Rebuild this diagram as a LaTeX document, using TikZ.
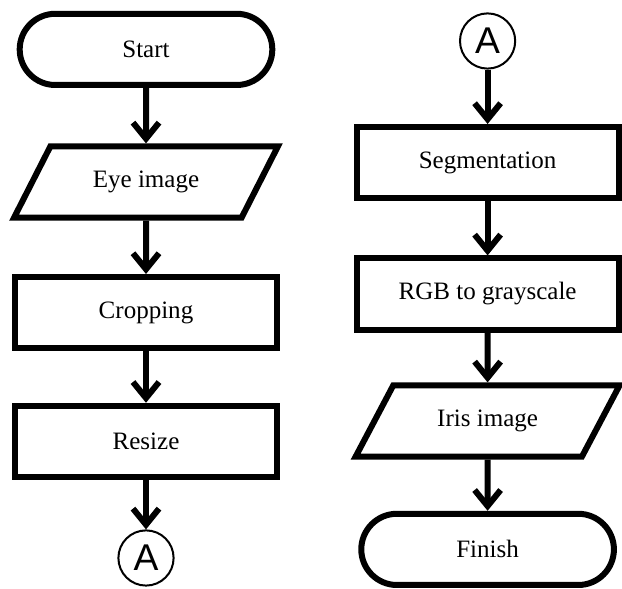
\documentclass[tikz,border=0pt]{standalone}
\usepackage{fontspec}
\setmainfont{Liberation Serif}
\newfontfamily\letterfont{Liberation Sans}
\usetikzlibrary{arrows.meta,shapes.geometric,shapes.misc}

\begin{document}
\begin{tikzpicture}[
		box/.style={draw, line width=0.15cm, minimum width=6.55cm, minimum height=1.78cm, font=\fontsize{17.8}{20}\selectfont},
		terminal/.style={box, rounded rectangle},
		process/.style={box, rectangle},
		io/.style={box, trapezium, trapezium left angle=55, trapezium right angle=125, trapezium stretches=true, minimum width=6.6cm},
		connector/.style={draw, circle, line width=0.05cm, minimum size=1.38cm, inner sep=0pt, font=\letterfont\fontsize{26.5}{27}\selectfont},
		flow/.style={line width=0.15cm, -{Straight Barb[length=0.4cm, width=0.65cm]}}
	]
		\useasboundingbox (0,0) rectangle (15.55,14.725);
		
		% left column
		\node[terminal] (start) at (3.65,13.49) {Start};
		\node[io] (eye) at (3.65,10.175) {Eye image};
		\node[process] (crop) at (3.65,6.91) {Cropping};
		\node[process] (resize) at (3.65,3.69) {Resize};
		\node[connector] (a1) at (3.65,0.775) {A};
		
		% right column
		\node[connector] (a2) at (12.19,13.7) {A};
		\node[process] (seg) at (12.19,10.66) {Segmentation};
		\node[process] (gray) at (12.19,7.375) {RGB to grayscale};
		\node[io] (iris) at (12.19,4.2) {Iris image};
		\node[terminal] (finish) at (12.19,0.99) {Finish};
		
		\draw[flow] (start) -- (eye);
		\draw[flow] (eye) -- (crop);
		\draw[flow] (crop) -- (resize);
		\draw[flow] (resize) -- (a1);
		\draw[flow] (a2) -- (seg);
		\draw[flow] (seg) -- (gray);
		\draw[flow] (gray) -- (iris);
		\draw[flow] (iris) -- (finish);
	\end{tikzpicture}
\end{document}
